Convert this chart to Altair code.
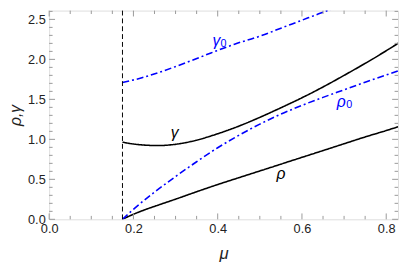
import altair as alt
import pandas as pd

# ---- data ----
mu_crit = 0.174

mu_gamma = [0.174, 0.2, 0.23, 0.26, 0.29, 0.32, 0.35, 0.4, 0.45, 0.5, 0.55, 0.6, 0.65, 0.7, 0.75, 0.8, 0.83]
gamma = [0.965, 0.942, 0.927, 0.922, 0.932, 0.955, 0.99, 1.07, 1.165, 1.275, 1.395, 1.52, 1.655, 1.80, 1.95, 2.108, 2.207]

mu_rho = [0.174, 0.19, 0.21, 0.23, 0.26, 0.3, 0.35, 0.4, 0.45, 0.5, 0.55, 0.6, 0.65, 0.7, 0.75, 0.8, 0.83]
rho = [0.0, 0.04, 0.085, 0.125, 0.18, 0.252, 0.345, 0.435, 0.52, 0.605, 0.69, 0.775, 0.86, 0.945, 1.03, 1.11, 1.16]

mu_gamma0 = [0.174, 0.22, 0.268, 0.33, 0.384, 0.44, 0.5, 0.55, 0.6, 0.65, 0.71, 0.77, 0.83]
gamma0 = [1.71, 1.77, 1.85, 1.97, 2.08, 2.19, 2.29, 2.39, 2.49, 2.59, 2.71, 2.83, 2.95]

mu_rho0 = [0.174, 0.2, 0.25, 0.3, 0.35, 0.4, 0.45, 0.5, 0.55, 0.6, 0.65, 0.7, 0.75, 0.8, 0.83]
rho0 = [0.0, 0.125, 0.34, 0.535, 0.72, 0.895, 1.05, 1.19, 1.315, 1.425, 1.525, 1.62, 1.715, 1.805, 1.86]

series_names = ["gamma", "rho", "gamma0", "rho0"]
series_colors = ["black", "black", "#0000ff", "#0000ff"]
series_dash = [[1, 0], [1, 0], [7, 3, 2, 3], [7, 3, 2, 3]]
series_width = [1.6, 1.6, 1.8, 1.8]

label_text = ["γ", "ρ", "γ", "ρ"]
label_mu = [0.298, 0.55, 0.397, 0.693]
label_val = [1.075, 0.564, 2.227, 1.462]
label_color = ["black", "black", "#0000ff", "#0000ff"]

sub_text = ["0", "0"]
sub_mu = [0.414, 0.712]
sub_val = [2.19, 1.43]
sub_color = ["#0000ff", "#0000ff"]

x_major = [0.0, 0.2, 0.4, 0.6, 0.8]
x_minor = [0.05, 0.1, 0.15, 0.25, 0.3, 0.35, 0.45, 0.5, 0.55, 0.65, 0.7, 0.75]
y_major = [0.0, 0.5, 1.0, 1.5, 2.0, 2.5]
y_minor = [0.1, 0.2, 0.3, 0.4, 0.6, 0.7, 0.8, 0.9, 1.1, 1.2, 1.3, 1.4,
           1.6, 1.7, 1.8, 1.9, 2.1, 2.2, 2.3, 2.4, 2.6]

X_MAX = 0.828
Y_MAX = 2.61
W, H = 356, 213
FONT = "Liberation Sans"

# ---- build tables ----
rows = []
for name, xs_, ys_ in [("gamma", mu_gamma, gamma), ("rho", mu_rho, rho),
                       ("gamma0", mu_gamma0, gamma0), ("rho0", mu_rho0, rho0)]:
    for i, (a, b) in enumerate(zip(xs_, ys_)):
        rows.append({"series": name, "mu": a, "v": b, "order": i})
curves = pd.DataFrame(rows)

xs = alt.Scale(domain=[0, X_MAX], nice=False, zero=False)
ys = alt.Scale(domain=[0, Y_MAX], nice=False, zero=False)

base_x_axis = alt.Axis(values=x_major, format=".1f", ticks=False, tickSize=0, domain=False,
                       grid=False, labelFlush=False, labelOverlap=False, labelFontSize=13,
                       labelFont=FONT, labelColor="#222", labelPadding=3,
                       title="μ", titleFont=FONT, titleFontSize=17, titleFontStyle="italic",
                       titleFontWeight="normal", titleColor="#222",
                       titleX=W / 2, titleY=40, titleBaseline="alphabetic", titleAlign="center")
base_y_axis = alt.Axis(values=y_major, format=".1f", ticks=False, tickSize=0, domain=False,
                       grid=False, labelFlush=False, labelOverlap=False, labelFontSize=13,
                       labelFont=FONT, labelColor="#222", labelPadding=4,
                       title="ρ,γ", titleFont=FONT, titleFontSize=16, titleFontStyle="italic",
                       titleFontWeight="normal", titleColor="#222",
                       titleX=-34, titleY=H / 2, titleAngle=-90, titleBaseline="middle",
                       titleAlign="center")

lines = alt.Chart(curves).mark_line(clip=True, interpolate="monotone").encode(
    x=alt.X("mu:Q", scale=xs, axis=base_x_axis),
    y=alt.Y("v:Q", scale=ys, axis=base_y_axis),
    color=alt.Color("series:N", scale=alt.Scale(domain=series_names, range=series_colors), legend=None),
    strokeDash=alt.StrokeDash("series:N", scale=alt.Scale(domain=series_names, range=series_dash), legend=None),
    strokeWidth=alt.StrokeWidth("series:N", scale=alt.Scale(domain=series_names, range=series_width), legend=None),
    order="order:Q",
    detail="series:N",
)

vline = alt.Chart(pd.DataFrame({"mu": [mu_crit]})).mark_rule(
    color="black", strokeWidth=1, strokeDash=[5, 3]).encode(
    x=alt.X("mu:Q", scale=xs), y=alt.value(0), y2=alt.value(H))

labels = alt.Chart(pd.DataFrame({"mu": label_mu, "v": label_val, "t": label_text, "c": label_color})).mark_text(
    font=FONT, fontSize=16, fontStyle="italic", align="center", baseline="middle").encode(
    x=alt.X("mu:Q", scale=xs), y=alt.Y("v:Q", scale=ys), text="t:N",
    color=alt.Color("c:N", scale=None))

subs = alt.Chart(pd.DataFrame({"mu": sub_mu, "v": sub_val, "t": sub_text, "c": sub_color})).mark_text(
    font=FONT, fontSize=11, align="center", baseline="middle").encode(
    x=alt.X("mu:Q", scale=xs), y=alt.Y("v:Q", scale=ys), text="t:N",
    color=alt.Color("c:N", scale=None))

TICK_COLOR = "#999"
xt = pd.DataFrame({"mu": x_major + x_minor, "len": [6] * len(x_major) + [3.5] * len(x_minor)})
yt = pd.DataFrame({"v": y_major + y_minor, "len": [6] * len(y_major) + [3.5] * len(y_minor)})

def xticks(df, y0, sign):
    layers = []
    for L in sorted(set(df["len"])):
        sub = df[df["len"] == L]
        layers.append(alt.Chart(sub).mark_rule(color=TICK_COLOR, strokeWidth=1).encode(
            x=alt.X("mu:Q", scale=xs), y=alt.value(y0), y2=alt.value(y0 + sign * L)))
    return layers

def yticks(df, x0, sign):
    layers = []
    for L in sorted(set(df["len"])):
        sub = df[df["len"] == L]
        layers.append(alt.Chart(sub).mark_rule(color=TICK_COLOR, strokeWidth=1).encode(
            y=alt.Y("v:Q", scale=ys), x=alt.value(x0), x2=alt.value(x0 + sign * L)))
    return layers

tick_layers = xticks(xt, H, -1) + xticks(xt, 0, 1) + yticks(yt, 0, 1) + yticks(yt, W, -1)

chart = alt.layer(lines, *tick_layers, vline, labels, subs).properties(
    width=W, height=H,
    autosize=alt.AutoSizeParams(type="none"),
    padding={"left": 42, "top": 0, "right": 1, "bottom": 46},
).configure_view(stroke="#888", strokeWidth=1).configure(background="white")

chart.save("out.html", embed_options={"renderer": "svg", "actions": False})
